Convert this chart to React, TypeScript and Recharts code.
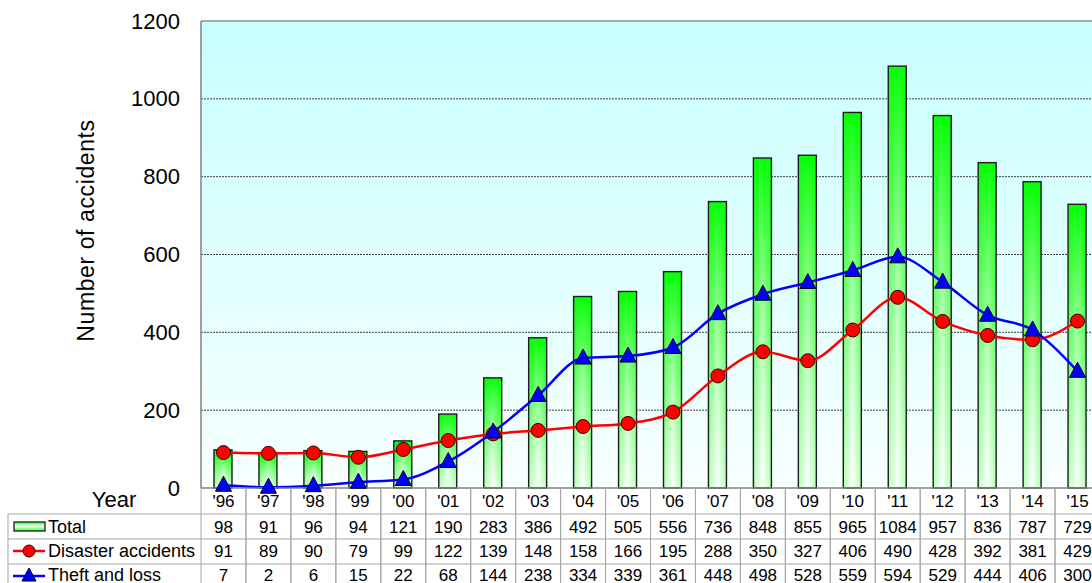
import React from 'react';
import { ComposedChart, Bar, Line, XAxis, YAxis, CartesianGrid, ReferenceLine } from 'recharts';

const years = ["'96", "'97", "'98", "'99", "'00", "'01", "'02", "'03", "'04", "'05", "'06", "'07", "'08", "'09", "'10", "'11", "'12", "'13", "'14", "'15"];
const total = [98, 91, 96, 94, 121, 190, 283, 386, 492, 505, 556, 736, 848, 855, 965, 1084, 957, 836, 787, 729];
const disaster = [91, 89, 90, 79, 99, 122, 139, 148, 158, 166, 195, 288, 350, 327, 406, 490, 428, 392, 381, 429];
const theft = [7, 2, 6, 15, 22, 68, 144, 238, 334, 339, 361, 448, 498, 528, 559, 594, 529, 444, 406, 300];
const yTicks = [0, 200, 400, 600, 800, 1000, 1200];

const data = years.map((year, i) => ({ year, total: total[i], disaster: disaster[i], theft: theft[i] }));

// layout
const W = 1100;
const H = 583;
const PLOT_LEFT = 201;
const PLOT_TOP = 21;
const AXIS_H = 95;
const PLOT_BOTTOM = H - AXIS_H;
const BAND = (W - PLOT_LEFT) / years.length;
const ROW_LINES = [514, 539, 564];
const ROW_MID = [501, 527, 551, 575];
const FONT = '"Liberation Sans", Arial, sans-serif';
const GRID_C = '#a6a6a6';

const GlassBar = (props: any) => {
    const { x, y, width, height } = props;
    if (!height || height <= 0) return null;
    return (
        <g>
            <rect x={x} y={y} width={width} height={height} fill="url(#barV)" />
            <rect x={x} y={y} width={width} height={height} fill="url(#barH)" mask="url(#fadeMask)" />
            <rect x={x} y={y} width={width} height={height} fill="none" stroke="#1c1c1c" strokeWidth={1.4} />
        </g>
    );
};

const CircleDot = (props: any) => {
    const { cx, cy, index } = props;
    return <circle key={`c-${index}`} cx={cx} cy={cy} r={7} fill="#ff0000" stroke="#3a0000" strokeWidth={1} />;
};

const TriDot = (props: any) => {
    const { cx, cy, index } = props;
    return (
        <polygon
            key={`t-${index}`}
            points={`${cx},${cy - 9} ${cx - 8},${cy + 6} ${cx + 8},${cy + 6}`}
            fill="#0000ff"
            stroke="#000022"
            strokeWidth={1}
        />
    );
};

const YTick = (props: any) => {
    const { y, payload } = props;
    return (
        <text x={180} y={y} textAnchor="end" dominantBaseline="central" fontSize={22} fontFamily={FONT} fill="#000">
            {payload.value}
        </text>
    );
};

const LegendBlock = () => (
    <g fontFamily={FONT} fontSize={18} fill="#000">
        <text x={114} y={499} textAnchor="middle" dominantBaseline="central" fontSize={22}>Year</text>
        {ROW_LINES.map(yy => (
            <line key={yy} x1={8} x2={PLOT_LEFT} y1={yy} y2={yy} stroke={GRID_C} strokeWidth={1} />
        ))}
        <line x1={8} x2={8} y1={514} y2={H} stroke={GRID_C} strokeWidth={1} />
        <rect x={14} y={522} width={31} height={9} fill="url(#legV)" stroke="#1c1c1c" strokeWidth={1.3} />
        <text x={48} y={ROW_MID[1]} dominantBaseline="central">Total</text>
        <line x1={13} x2={45} y1={551} y2={551} stroke="#ff0000" strokeWidth={2.5} />
        <circle cx={29} cy={551} r={6} fill="#ff0000" stroke="#3a0000" strokeWidth={1} />
        <text x={48} y={ROW_MID[2]} dominantBaseline="central">Disaster accidents</text>
        <line x1={13} x2={45} y1={576} y2={576} stroke="#0000ff" strokeWidth={2.5} />
        <polygon points="29,568 22,581 36,581" fill="#0000ff" stroke="#000022" strokeWidth={1} />
        <text x={48} y={ROW_MID[3]} dominantBaseline="central">Theft and loss</text>
    </g>
);

const TableTick = (props: any) => {
    const { x, payload } = props;
    const i = payload.index;
    const left = x - BAND / 2;
    const right = x + BAND / 2;
    const cells = [years[i], total[i], disaster[i], theft[i]];
    return (
        <g fontFamily={FONT} fontSize={17} fill="#000">
            {i === 0 && <LegendBlock />}
            <line x1={left} x2={left} y1={PLOT_BOTTOM} y2={H} stroke={GRID_C} strokeWidth={1} />
            <line x1={right} x2={right} y1={PLOT_BOTTOM} y2={H} stroke={GRID_C} strokeWidth={1} />
            {ROW_LINES.map(yy => (
                <line key={yy} x1={left} x2={right} y1={yy} y2={yy} stroke={GRID_C} strokeWidth={1} />
            ))}
            {cells.map((c, r) => (
                <text key={r} x={x} y={ROW_MID[r]} textAnchor="middle" dominantBaseline="central">
                    {c}
                </text>
            ))}
        </g>
    );
};

export default function App() {
    return (
        <div style={{ position: 'absolute', left: 0, top: 0, width: W, height: H, background: '#fff' }}>
            <ComposedChart width={W} height={H} data={data} margin={{ top: PLOT_TOP, right: 0, bottom: 0, left: 0 }} barCategoryGap={0}>
                <defs>
                    <linearGradient id="bg" x1="0" y1="0" x2="0" y2="1">
                        <stop offset="0%" stopColor="#c8ffff" />
                        <stop offset="100%" stopColor="#f8ffff" />
                    </linearGradient>
                    <linearGradient id="barV" x1="0" y1="0" x2="0" y2="1">
                        <stop offset="0%" stopColor="#08ff08" />
                        <stop offset="100%" stopColor="#b8ffb8" />
                    </linearGradient>
                    <linearGradient id="barH" x1="0" y1="0" x2="1" y2="0">
                        <stop offset="0%" stopColor="#ffffff" stopOpacity={0} />
                        <stop offset="50%" stopColor="#ffffff" stopOpacity={0.95} />
                        <stop offset="100%" stopColor="#ffffff" stopOpacity={0} />
                    </linearGradient>
                    <linearGradient id="maskGrad" x1="0" y1="0" x2="0" y2="1">
                        <stop offset="0%" stopColor="#000" />
                        <stop offset="100%" stopColor="#fff" />
                    </linearGradient>
                    <mask id="fadeMask" maskContentUnits="objectBoundingBox">
                        <rect x={0} y={0} width={1} height={1} fill="url(#maskGrad)" />
                    </mask>
                    <linearGradient id="legV" x1="0" y1="0" x2="0" y2="1">
                        <stop offset="0%" stopColor="#30ff30" />
                        <stop offset="50%" stopColor="#e8ffe8" />
                        <stop offset="100%" stopColor="#30ff30" />
                    </linearGradient>
                </defs>
                <CartesianGrid
                    vertical={false}
                    horizontalValues={[200, 400, 600, 800, 1000]}
                    stroke="#404040"
                    strokeDasharray="2 1"
                    fill="url(#bg)"
                />
                <ReferenceLine y={1200} stroke="#8c8c8c" strokeWidth={1.5} />
                <XAxis
                    dataKey="year"
                    height={AXIS_H}
                    interval={0}
                    tickLine={false}
                    tickSize={0}
                    axisLine={{ stroke: '#808080', strokeWidth: 1.5 }}
                    tick={<TableTick />}
                />
                <YAxis
                    width={PLOT_LEFT}
                    domain={[0, 1200]}
                    ticks={yTicks}
                    interval={0}
                    tickLine={false}
                    axisLine={{ stroke: '#808080', strokeWidth: 1.5 }}
                    tick={<YTick />}
                    label={{
                        value: 'Number of accidents',
                        angle: -90,
                        position: 'insideLeft',
                        offset: 86,
                        dy: -24,
                        style: { fontSize: 23, fontFamily: FONT, fill: '#000', letterSpacing: 0.6, textAnchor: 'middle' },
                    }}
                />
                <Bar dataKey="total" barSize={18} shape={<GlassBar />} isAnimationActive={false} />
                <Line
                    dataKey="disaster"
                    type="monotone"
                    stroke="#ff0000"
                    strokeWidth={2.5}
                    dot={<CircleDot />}
                    activeDot={false}
                    isAnimationActive={false}
                />
                <Line
                    dataKey="theft"
                    type="monotone"
                    stroke="#0000ff"
                    strokeWidth={2.5}
                    dot={<TriDot />}
                    activeDot={false}
                    isAnimationActive={false}
                />
            </ComposedChart>
        </div>
    );
}
